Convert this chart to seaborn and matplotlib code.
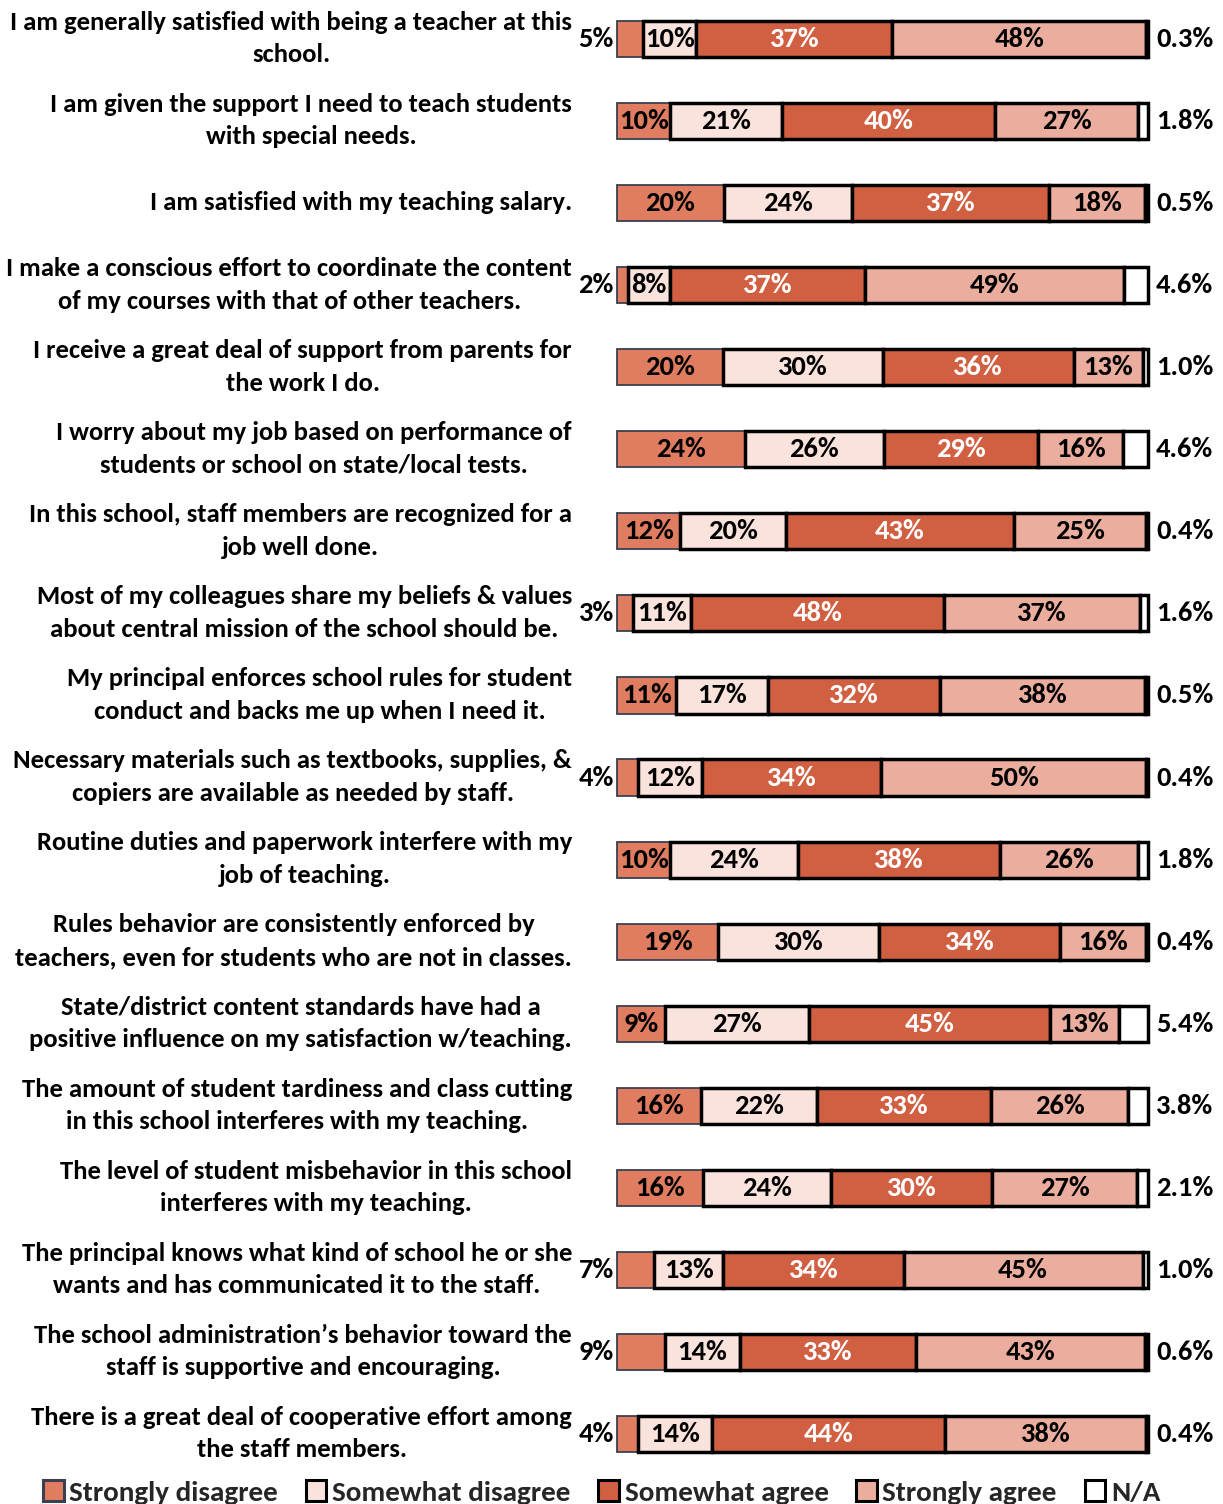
import matplotlib
matplotlib.use("Agg")
import matplotlib.pyplot as plt
from matplotlib.patches import Patch
import seaborn as sns
import numpy as np

statements = [
    "I am generally satisfied with being a teacher at this\nschool.",
    "I am given the support I need to teach students\nwith special needs.",
    "I am satisfied with my teaching salary.",
    "I make a conscious effort to coordinate the content\nof my courses with that of other teachers.",
    "I receive a great deal of support from parents for\nthe work I do.",
    "I worry about my job based on performance of\nstudents or school on state/local tests.",
    "In this school, staff members are recognized for a\njob well done.",
    "Most of my colleagues share my beliefs & values\nabout central mission of the school should be.",
    "My principal enforces school rules for student\nconduct and backs me up when I need it.",
    "Necessary materials such as textbooks, supplies, &\ncopiers are available as needed by staff.",
    "Routine duties and paperwork interfere with my\njob of teaching.",
    "Rules behavior are consistently enforced by\nteachers, even for students who are not in classes.",
    "State/district content standards have had a\npositive influence on my satisfaction w/teaching.",
    "The amount of student tardiness and class cutting\nin this school interferes with my teaching.",
    "The level of student misbehavior in this school\ninterferes with my teaching.",
    "The principal knows what kind of school he or she\nwants and has communicated it to the staff.",
    "The school administration\u2019s behavior toward the\nstaff is supportive and encouraging.",
    "There is a great deal of cooperative effort among\nthe staff members.",
]

strongly_disagree = [5, 10, 20, 2, 20, 24, 12, 3, 11, 4, 10, 19, 9, 16, 16, 7, 9, 4]
somewhat_disagree = [10, 21, 24, 8, 30, 26, 20, 11, 17, 12, 24, 30, 27, 22, 24, 13, 14, 14]
somewhat_agree = [37, 40, 37, 37, 36, 29, 43, 48, 32, 34, 38, 34, 45, 33, 30, 34, 33, 44]
strongly_agree = [48, 27, 18, 49, 13, 16, 25, 37, 38, 50, 26, 16, 13, 26, 27, 45, 43, 38]
not_applicable = [0.3, 1.8, 0.5, 4.6, 1.0, 4.6, 0.4, 1.6, 0.5, 0.4, 1.8, 0.4, 5.4, 3.8, 2.1, 1.0, 0.6, 0.4]
# rows whose "Strongly disagree" label sits outside the bar
sd_label_outside = [True, False, False, True, False, False, False, True, False, True,
                    False, False, False, False, False, True, True, True]

series_names = ["Strongly disagree", "Somewhat disagree", "Somewhat agree", "Strongly agree", "N/A"]
colors = ["#E07C5F", "#FAE3DC", "#D16043", "#EBAE9E", "#FFFFFF"]

sns.set_theme(style="white")
plt.rcParams["font.family"] = ["Carlito", "DejaVu Sans"]
plt.rcParams["font.weight"] = "bold"

FS = 19.2
FS_NUM = 20.5
W, H = 1223, 1504
fig = plt.figure(figsize=(W / 100, H / 100), dpi=100)

x0_px, x1_px = 617, 1148
row0_px, step_px = 39, 82.06
n = len(statements)
top_px = row0_px - 0.5 * step_px
bot_px = row0_px + (n - 0.5) * step_px
ax = fig.add_axes([x0_px / W, 1 - bot_px / H, (x1_px - x0_px) / W, (bot_px - top_px) / H])
ax.set_xlim(0, 100)
ax.set_ylim(n - 0.5, -0.5)
ax.axis("off")

raw = np.array([strongly_disagree, somewhat_disagree, somewhat_agree, strongly_agree, not_applicable], dtype=float)
# each bar is scaled to fill the full width
data = raw / raw.sum(axis=0) * 100
ypos = np.arange(n)
bar_h = 0.44
left = np.zeros(n)
for k in range(5):
    if k == 0:
        ec, lw = "#3B4050", 1.3
    else:
        ec, lw = "black", 2.5
    ax.barh(ypos, data[k], left=left, height=bar_h, color=colors[k], edgecolor=ec,
            linewidth=lw, zorder=2 if k == 0 else 3, clip_on=False)
    for i in range(n):
        v = raw[k][i]
        if k == 4:
            ax.text(101.5, i, f"{v:.1f}%", ha="left", va="center", fontsize=FS_NUM,
                    fontweight="bold", color="black", clip_on=False)
            continue
        label = f"{int(v)}%"
        if k == 0 and sd_label_outside[i]:
            ax.text(-0.6, i, label, ha="right", va="center", fontsize=FS_NUM,
                    fontweight="bold", color="black", clip_on=False)
            continue
        cx = left[i] + data[k][i] / 2
        ax.text(cx, i, label, ha="center", va="center", fontsize=FS_NUM,
                fontweight="bold", color="white" if k == 2 else "black", zorder=5)
    left = left + data[k]

label_right = -(x0_px - 572) / (x1_px - x0_px) * 100
for i, s in enumerate(statements):
    ax.text(label_right, i - 0.005, s, ha="right", va="center", multialignment="center",
            fontsize=FS, fontweight="bold", color="black", linespacing=1.5, clip_on=False)

handles = [Patch(facecolor=colors[k], edgecolor="#3B4050" if k == 0 else "black",
                 linewidth=2.2) for k in range(5)]
fig.legend(handles, series_names, loc="lower center", bbox_to_anchor=(0.492, -0.018), ncol=5,
           frameon=False, handlelength=0.7, handleheight=0.7,
           handletextpad=0.2, columnspacing=0.95, prop={"weight": "bold", "size": 21})

fig.savefig("out.png", dpi=100)
